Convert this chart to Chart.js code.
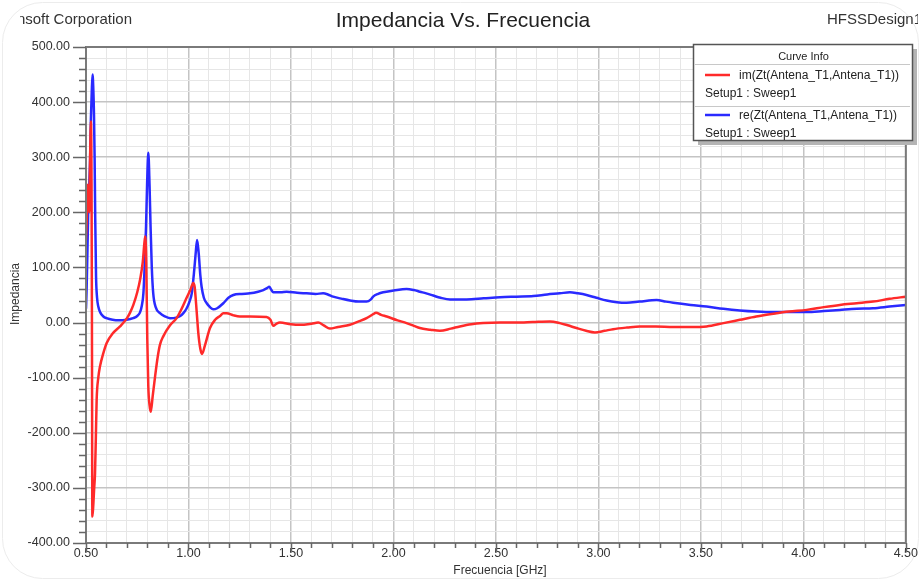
<!DOCTYPE html>
<html><head><meta charset="utf-8">
<script src="https://cdn.jsdelivr.net/npm/chart.js@4.4.1/dist/chart.umd.min.js"></script>
<style>html,body{margin:0;padding:0;background:#fff}#wrap{width:921px;height:581px;position:relative}canvas{display:block}</style>
</head><body><div id="wrap"><canvas id="c" width="921" height="581"></canvas></div>
<script>
// ---- data ----
const reFreq = [0.500,0.503,0.507,0.511,0.516,0.520,0.524,0.528,0.532,0.536,0.539,0.542,0.545,0.549,0.554,0.560,0.570,0.585,0.600,0.630,0.660,0.698,0.730,0.750,0.763,0.772,0.780,0.787,0.793,0.798,0.804,0.810,0.815,0.821,0.828,0.840,0.861,0.885,0.910,0.940,0.960,0.975,0.990,1.005,1.016,1.028,1.035,1.042,1.050,1.058,1.064,1.075,1.089,1.105,1.121,1.140,1.170,1.195,1.219,1.260,1.300,1.340,1.365,1.385,1.394,1.403,1.414,1.450,1.479,1.530,1.576,1.620,1.657,1.680,1.706,1.750,1.788,1.830,1.869,1.890,1.901,1.925,1.950,2.000,2.064,2.100,2.129,2.160,2.194,2.230,2.276,2.357,2.440,2.520,2.600,2.683,2.750,2.812,2.861,2.900,2.942,2.990,3.040,3.090,3.137,3.200,3.284,3.330,3.365,3.450,3.528,3.610,3.690,3.770,3.853,3.930,4.016,4.100,4.178,4.260,4.340,4.420,4.500];
const reVals = [25,60,130,205,250,296,370,418,450,420,377,300,190,84,45,29,18,11,8,5,4,5,8,12,18,30,53,110,175,250,308,250,175,100,53,28,17,11,8,9,12,17,25,38,53,95,125,150,125,85,65,45,35,28,24,26,35,45,50,52,53,56,59,63,65,60,55,55,56,54,53,52,53,51,47,43,40,38,38,42,47,52,55,58,61,59,56,53,49,45,42,42,44,46,47,48,51,53,55,53,50,45,40,37,36,38,41,38,36,32,29,25,22,20,19,19,19,21,23,25,26,29,32];
const imFreq = [0.500,0.504,0.508,0.512,0.516,0.520,0.524,0.527,0.529,0.531,0.535,0.540,0.544,0.548,0.552,0.560,0.568,0.585,0.601,0.630,0.666,0.700,0.715,0.731,0.750,0.765,0.777,0.785,0.789,0.794,0.799,0.804,0.810,0.816,0.825,0.837,0.850,0.861,0.877,0.910,0.942,0.960,0.991,1.010,1.023,1.030,1.040,1.048,1.058,1.066,1.080,1.105,1.130,1.154,1.170,1.186,1.220,1.251,1.300,1.381,1.400,1.414,1.430,1.446,1.500,1.544,1.600,1.633,1.660,1.690,1.730,1.788,1.830,1.869,1.900,1.915,1.940,1.967,2.020,2.064,2.100,2.129,2.180,2.227,2.280,2.324,2.380,2.438,2.520,2.600,2.680,2.763,2.812,2.850,2.893,2.940,2.983,3.030,3.072,3.140,3.202,3.280,3.365,3.450,3.528,3.610,3.690,3.770,3.853,3.930,4.016,4.100,4.178,4.260,4.340,4.420,4.500];
const imVals = [150,190,250,230,200,300,365,250,0,-352,-335,-300,-274,-210,-140,-100,-80,-55,-37,-20,-7,8,18,32,55,80,110,145,156,110,-30,-116,-150,-162,-135,-98,-62,-40,-25,-5,8,20,45,60,72,65,20,-19,-48,-57,-42,-10,5,12,17,17,13,11,11,10,5,-6,-2,0,-3,-4,-2,0,-5,-11,-8,-4,2,8,15,18,14,11,4,-1,-6,-10,-13,-15,-11,-7,-3,-1,0,0,1,2,-1,-5,-10,-15,-18,-15,-12,-9,-7,-7,-8,-8,-7,-1,5,11,16,20,23,28,32,35,38,43,47];
const xTickLabels = [0.5,1.0,1.5,2.0,2.5,3.0,3.5,4.0,4.5];
const yTickLabels = [-400,-300,-200,-100,0,100,200,300,400,500];
const seriesNames = ['im(Zt(Antena_T1,Antena_T1))','re(Zt(Antena_T1,Antena_T1))'];
const sweepName = 'Setup1 : Sweep1';

const FONT = "'Liberation Sans', Arial, sans-serif";
const RED = '#ff2a2a', BLUE = '#2a2aff';
const isMajorX = v => xTickLabels.some(t => Math.abs(t - v) < 1e-6);
const isMajorY = v => yTickLabels.some(t => Math.abs(t - v) < 1e-6);

const toPts = (xs, ys) => xs.map((x, i) => ({x, y: ys[i]}));

const decor = {
  id: 'decor',
  beforeDraw(chart) {
    const c = chart.ctx;
    c.save();
    c.fillStyle = '#fff';
    c.fillRect(0, 0, chart.width, chart.height);
    c.strokeStyle = '#ececec';
    c.lineWidth = 1;
    c.beginPath();
    c.roundRect(2.5, 2.5, chart.width - 5, chart.height - 5, 40);
    c.stroke();
    c.restore();
  },
  afterDraw(chart) {
    const c = chart.ctx, a = chart.chartArea;
    const xs = chart.scales.x, ys = chart.scales.y;
    c.save();
    // frame
    c.strokeStyle = '#7a7a7a';
    c.lineWidth = 2;
    c.beginPath();
    c.moveTo(a.left, a.bottom); c.lineTo(a.left, a.top); c.lineTo(a.right, a.top); c.lineTo(a.right, a.bottom); c.lineTo(a.left, a.bottom);
    c.stroke();
    // tick marks
    c.strokeStyle = '#666';
    c.lineWidth = 1.5;
    c.beginPath();
    ys.ticks.forEach(t => {
      const y = Math.round(ys.getPixelForValue(t.value)) + 0.5;
      const len = isMajorY(t.value) ? 13 : 7;
      c.moveTo(a.left - len, y); c.lineTo(a.left, y);
    });
    xs.ticks.forEach(t => {
      const x = Math.round(xs.getPixelForValue(t.value)) + 0.5;
      const len = isMajorX(t.value) ? 8 : 5;
      c.moveTo(x, a.bottom); c.lineTo(x, a.bottom + len);
    });
    c.stroke();
    // texts
    c.fillStyle = '#222';
    c.textBaseline = 'middle';
    c.font = '21px ' + FONT;
    c.textAlign = 'center';
    c.fillText('Impedancia Vs. Frecuencia', 463, 21);
    c.font = '15px ' + FONT;
    c.fillStyle = '#333';
    c.save();
    c.beginPath(); c.rect(20, 0, 898, 40); c.clip();
    c.textAlign = 'right';
    c.fillText('Ansoft Corporation', 132, 20);
    c.textAlign = 'left';
    c.fillText('HFSSDesign1', 827, 20);
    c.restore();
    // axis titles
    c.font = '12px ' + FONT;
    c.textAlign = 'center';
    c.fillText('Frecuencia [GHz]', 500, 571);
    c.save();
    c.translate(16, 294);
    c.rotate(-Math.PI / 2);
    c.fillText('Impedancia', 0, 0);
    c.restore();
    // legend box "Curve Info"
    const L = 693, T = 44, W = 219, H = 96;
    c.fillStyle = '#b4b4b4';
    c.fillRect(L + 5, T + 5, W, H);
    c.fillStyle = '#fff';
    c.fillRect(L, T, W, H);
    c.strokeStyle = '#555';
    c.lineWidth = 1.5;
    c.strokeRect(L + 0.5, T + 0.5, W, H);
    c.strokeStyle = '#c8c8c8';
    c.lineWidth = 1;
    c.beginPath();
    c.moveTo(L + 2, T + 20.5); c.lineTo(L + W - 2, T + 20.5);
    c.moveTo(L + 2, T + 62.5); c.lineTo(L + W - 2, T + 62.5);
    c.stroke();
    c.fillStyle = '#222';
    c.font = '11px ' + FONT;
    c.textAlign = 'center';
    c.fillText('Curve Info', L + W / 2 + 1, T + 13);
    const entries = [[RED, seriesNames[0], T + 31], [BLUE, seriesNames[1], T + 71]];
    entries.forEach(([col, name, y]) => {
      c.strokeStyle = col;
      c.lineWidth = 2.5;
      c.beginPath(); c.moveTo(L + 12, y); c.lineTo(L + 37, y); c.stroke();
      c.fillStyle = '#222';
      c.textAlign = 'left';
      c.font = '12px ' + FONT;
      c.fillText(name, L + 46, y + 1);
      c.fillText(sweepName, L + 12, y + 19);
    });
    c.restore();
  }
};

new Chart(document.getElementById('c'), {
  type: 'line',
  data: {
    datasets: [
      {label: seriesNames[0], data: toPts(imFreq, imVals), borderColor: RED, borderWidth: 2.5, pointRadius: 0, tension: 0, cubicInterpolationMode: 'monotone', fill: false},
      {label: seriesNames[1], data: toPts(reFreq, reVals), borderColor: BLUE, borderWidth: 2.5, pointRadius: 0, tension: 0, cubicInterpolationMode: 'monotone', fill: false}
    ]
  },
  options: {
    responsive: false,
    devicePixelRatio: 1,
    animation: false,
    events: [],
    layout: {padding: {top: 47, right: 15, left: 0, bottom: 0}},
    plugins: {legend: {display: false}, title: {display: false}, tooltip: {enabled: false}},
    scales: {
      x: {
        type: 'linear', min: 0.5, max: 4.5,
        afterFit: s => { s.height = 38; },
        border: {display: false},
        grid: {drawTicks: false, color: ctx => isMajorX(ctx.tick.value) ? '#c4c4c4' : '#e6e6e6', lineWidth: ctx => isMajorX(ctx.tick.value) ? 1.5 : 1},
        ticks: {stepSize: 0.1, autoSkip: false, maxRotation: 0, padding: 3, color: '#333', font: {family: FONT, size: 12.5},
          callback: v => isMajorX(v) ? v.toFixed(2) : ''}
      },
      y: {
        type: 'linear', min: -400, max: 500,
        afterFit: s => { s.width = 86; },
        border: {display: false},
        grid: {drawTicks: false, color: ctx => isMajorY(ctx.tick.value) ? '#c4c4c4' : '#e6e6e6', lineWidth: ctx => isMajorY(ctx.tick.value) ? 1.5 : 1},
        ticks: {stepSize: 20, autoSkip: false, padding: 16, color: '#333', font: {family: FONT, size: 12.5},
          callback: v => isMajorY(v) ? v.toFixed(2) : ''}
      }
    }
  },
  plugins: [decor]
});
</script></body></html>
